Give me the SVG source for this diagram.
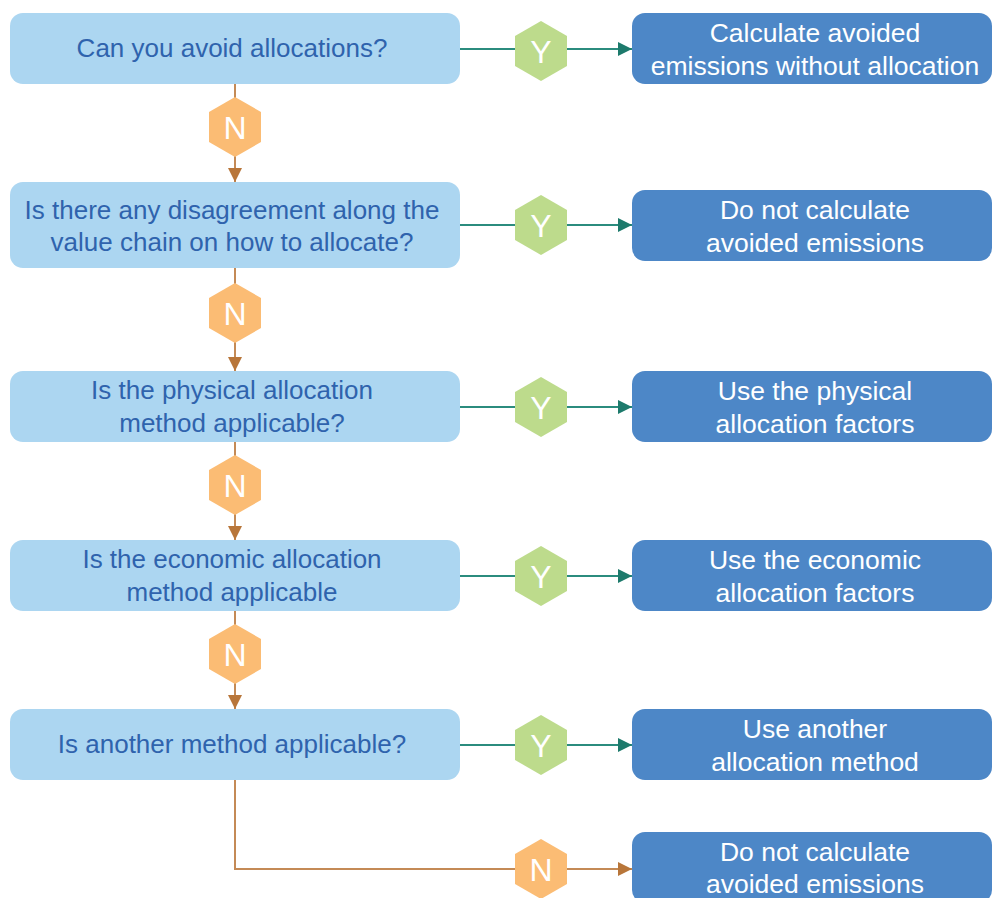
<svg xmlns="http://www.w3.org/2000/svg" width="992" height="898" viewBox="0 0 992 898">
<style>
.q{fill:#acd6f1}
.r{fill:#4d87c7}
.qt{font-family:"Liberation Sans",Arial,sans-serif;font-size:26px;fill:#2f63ad;text-anchor:middle}
.rt{font-family:"Liberation Sans",Arial,sans-serif;font-size:26.5px;fill:#ffffff;text-anchor:middle}
.ht{font-family:"Liberation Sans",Arial,sans-serif;font-size:32px;fill:#ffffff;text-anchor:middle}
.yh{fill:#bddb8c}
.nh{fill:#fbbc74}
.yl{stroke:#2b8c7e;stroke-width:2;fill:none}
.nl{stroke:#c48a56;stroke-width:2;fill:none}
</style>
<defs>
<marker id="ay" viewBox="0 0 14 14" refX="14" refY="7" markerWidth="14" markerHeight="14" markerUnits="userSpaceOnUse" orient="auto"><path d="M0,0 L14,7 L0,14 Z" fill="#1d7a6c"/></marker>
<marker id="an" viewBox="0 0 14 14" refX="14" refY="7" markerWidth="14" markerHeight="14" markerUnits="userSpaceOnUse" orient="auto"><path d="M0,0 L14,7 L0,14 Z" fill="#b8763a"/></marker>
<polygon id="hex" points="0,-30 26,-15 26,15 0,30 -26,15 -26,-15"/>
</defs>

<g id="connectors">
<path class="nl" d="M235,84 V182" marker-end="url(#an)"/>
<path class="nl" d="M235,268 V371" marker-end="url(#an)"/>
<path class="nl" d="M235,442 V540" marker-end="url(#an)"/>
<path class="nl" d="M235,611 V709" marker-end="url(#an)"/>
<path class="nl" d="M235,780 V869 H632" marker-end="url(#an)"/>
<path class="yl" d="M460,49 H632" marker-end="url(#ay)"/>
<path class="yl" d="M460,225 H632" marker-end="url(#ay)"/>
<path class="yl" d="M460,407 H632" marker-end="url(#ay)"/>
<path class="yl" d="M460,576 H632" marker-end="url(#ay)"/>
<path class="yl" d="M460,745 H632" marker-end="url(#ay)"/>
</g>

<g id="q1"><rect class="q" x="10" y="13" width="450" height="71" rx="13"/><text class="qt" x="232" y="57">Can you avoid allocations?</text></g>
<g id="q2"><rect class="q" x="10" y="182" width="450" height="86" rx="13"/><text class="qt" x="232" y="219">Is there any disagreement along the</text><text class="qt" x="232" y="251">value chain on how to allocate?</text></g>
<g id="q3"><rect class="q" x="10" y="371" width="450" height="71" rx="13"/><text class="qt" x="232" y="399">Is the physical allocation</text><text class="qt" x="232" y="432">method applicable?</text></g>
<g id="q4"><rect class="q" x="10" y="540" width="450" height="71" rx="13"/><text class="qt" x="232" y="568">Is the economic allocation</text><text class="qt" x="232" y="601">method applicable</text></g>
<g id="q5"><rect class="q" x="10" y="709" width="450" height="71" rx="13"/><text class="qt" x="232" y="753">Is another method applicable?</text></g>

<g id="r1"><rect class="r" x="632" y="13" width="360" height="71" rx="13"/><text class="rt" x="815" y="42">Calculate avoided</text><text class="rt" x="815" y="75">emissions without allocation</text></g>
<g id="r2"><rect class="r" x="632" y="190" width="360" height="71" rx="13"/><text class="rt" x="815" y="219">Do not calculate</text><text class="rt" x="815" y="252">avoided emissions</text></g>
<g id="r3"><rect class="r" x="632" y="371" width="360" height="71" rx="13"/><text class="rt" x="815" y="400">Use the physical</text><text class="rt" x="815" y="433">allocation factors</text></g>
<g id="r4"><rect class="r" x="632" y="540" width="360" height="71" rx="13"/><text class="rt" x="815" y="569">Use the economic</text><text class="rt" x="815" y="602">allocation factors</text></g>
<g id="r5"><rect class="r" x="632" y="709" width="360" height="71" rx="13"/><text class="rt" x="815" y="738">Use another</text><text class="rt" x="815" y="771">allocation method</text></g>
<g id="r6"><rect class="r" x="632" y="832" width="360" height="71" rx="13"/><text class="rt" x="815" y="861">Do not calculate</text><text class="rt" x="815" y="893">avoided emissions</text></g>

<g id="n1"><use href="#hex" class="nh" x="235" y="127"/><text class="ht" x="235" y="139">N</text></g>
<g id="n2"><use href="#hex" class="nh" x="235" y="313"/><text class="ht" x="235" y="325">N</text></g>
<g id="n3"><use href="#hex" class="nh" x="235" y="485"/><text class="ht" x="235" y="497">N</text></g>
<g id="n4"><use href="#hex" class="nh" x="235" y="654"/><text class="ht" x="235" y="666">N</text></g>
<g id="n5"><use href="#hex" class="nh" x="541" y="869"/><text class="ht" x="541" y="881">N</text></g>

<g id="y1"><use href="#hex" class="yh" x="541" y="51"/><text class="ht" x="541" y="63">Y</text></g>
<g id="y2"><use href="#hex" class="yh" x="541" y="225"/><text class="ht" x="541" y="237">Y</text></g>
<g id="y3"><use href="#hex" class="yh" x="541" y="407"/><text class="ht" x="541" y="419">Y</text></g>
<g id="y4"><use href="#hex" class="yh" x="541" y="576"/><text class="ht" x="541" y="588">Y</text></g>
<g id="y5"><use href="#hex" class="yh" x="541" y="745"/><text class="ht" x="541" y="757">Y</text></g>
</svg>
